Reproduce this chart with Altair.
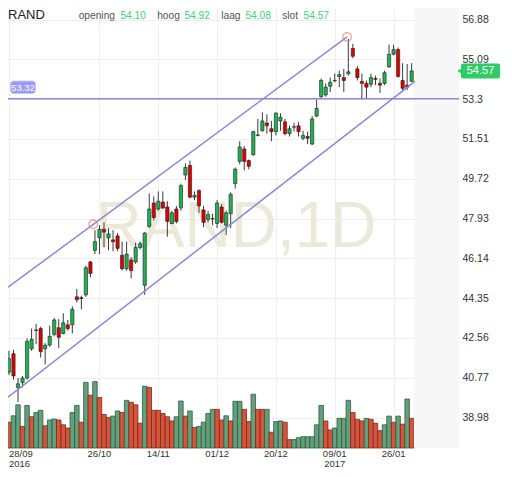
import altair as alt
import pandas as pd

# ---------------- data ----------------
opens = [41.02, 41.85, 40.33, 40.55, 40.76, 42.07, 42.92, 42.98, 42.07, 42.24,
         42.72, 43.02, 42.76, 43.15, 43.15, 44.41, 44.37, 44.50, 45.98, 46.50,
         47.06, 47.45, 47.06, 46.97, 47.15, 46.28, 45.67, 46.07, 45.98, 46.63,
         44.93, 47.58, 48.63, 48.36, 48.67, 48.45, 47.71, 48.36, 48.41, 49.89,
         50.32, 48.89, 49.19, 48.32, 47.89, 47.93, 47.71, 48.45, 47.63, 48.15,
         49.50, 50.50, 51.06, 50.54, 50.80, 51.67, 51.88, 52.23, 51.97, 51.84,
         52.32, 52.28, 51.75, 52.04, 52.10, 51.54, 51.62, 51.28, 52.54, 53.41,
         53.49, 53.88, 54.12, 54.32, 54.27, 54.45, 55.58, 54.66, 54.10, 54.01,
         53.97, 54.23, 54.01, 54.01, 54.75, 55.32, 55.53, 54.14, 53.93, 54.10]
highs = [41.98, 42.03, 40.76, 40.85, 42.54, 42.98, 43.19, 43.06, 42.33, 43.11,
         43.46, 43.41, 43.67, 43.37, 43.98, 44.76, 44.46, 45.81, 46.02, 47.41,
         47.63, 47.76, 47.50, 47.41, 47.28, 46.89, 46.89, 46.20, 46.85, 46.89,
         47.32, 49.06, 48.93, 49.15, 49.15, 48.71, 48.28, 48.50, 49.50, 50.41,
         50.54, 49.15, 49.24, 48.50, 48.28, 48.15, 48.76, 48.58, 48.28, 49.11,
         50.23, 51.41, 51.19, 50.58, 51.88, 52.41, 52.71, 52.62, 52.32, 52.71,
         52.67, 52.41, 52.10, 52.23, 52.28, 51.88, 51.84, 52.54, 53.28, 54.23,
         54.01, 54.27, 54.45, 54.58, 54.66, 56.01, 55.79, 54.79, 54.45, 54.14,
         54.45, 54.36, 54.23, 54.58, 55.75, 55.75, 55.62, 54.92, 54.88, 54.92]
lows = [40.89, 40.68, 39.68, 40.33, 40.68, 41.98, 42.28, 41.68, 41.37, 42.16,
        42.63, 42.11, 42.72, 42.89, 42.76, 44.15, 43.85, 44.41, 45.29, 46.33,
        46.33, 46.63, 46.50, 46.46, 46.46, 45.59, 45.59, 45.24, 45.89, 46.54,
        44.50, 47.50, 47.84, 48.28, 48.36, 47.11, 47.67, 47.71, 48.28, 49.67,
        48.84, 48.76, 48.19, 47.54, 47.76, 47.63, 47.50, 47.71, 47.19, 47.50,
        49.28, 50.37, 50.10, 50.15, 50.75, 51.62, 51.84, 51.75, 51.41, 51.67,
        51.88, 51.67, 51.62, 51.84, 51.62, 51.45, 51.28, 51.23, 52.49, 53.36,
        53.41, 53.62, 54.06, 53.84, 53.62, 54.36, 55.14, 54.14, 53.28, 53.32,
        53.84, 53.93, 53.58, 53.93, 54.71, 55.27, 54.27, 53.62, 53.71, 54.08]
closes = [41.63, 40.85, 40.50, 40.76, 42.41, 42.50, 42.90, 41.94, 42.24, 42.63,
          43.37, 42.59, 43.24, 42.98, 43.85, 44.28, 44.33, 45.72, 45.46, 46.89,
          47.45, 47.32, 47.24, 46.89, 46.59, 45.67, 46.33, 45.59, 46.63, 46.80,
          47.28, 48.36, 47.97, 48.71, 48.41, 47.80, 48.19, 47.80, 49.41, 50.23,
          48.89, 48.97, 48.50, 47.76, 48.11, 47.91, 48.63, 47.76, 48.19, 49.02,
          50.15, 51.15, 50.50, 50.28, 51.84, 51.69, 52.32, 52.10, 51.84, 52.67,
          52.49, 51.75, 51.97, 52.06, 51.84, 51.67, 51.54, 52.41, 52.88, 54.14,
          53.84, 54.06, 54.14, 54.40, 54.14, 54.53, 55.23, 54.27, 54.01, 53.84,
          54.27, 54.19, 53.93, 54.49, 55.32, 55.53, 54.32, 53.79, 53.84, 54.57]
volumes = [800, 1000, 1340, 670, 1320, 970, 1100, 1170, 690, 870,
           900, 870, 720, 620, 1100, 1320, 800, 2040, 1640, 2060,
           1570, 1040, 950, 990, 1150, 1100, 1480, 1420, 1340, 770,
           1920, 1880, 1170, 1170, 1070, 970, 840, 970, 1460, 990,
           1150, 640, 670, 800, 1070, 1200, 1200, 870, 1000, 840,
           1450, 1450, 1200, 820, 1670, 1200, 1200, 1200, 490, 820,
           840, 800, 260, 260, 320, 350, 350, 350, 720, 1320,
           840, 560, 620, 920, 920, 1480, 1100, 890, 840, 920,
           890, 770, 540, 720, 990, 800, 990, 740, 1520, 920]
vol_dir = list("RGGRGRGGRGGRRRGGRGRGRRRGGRGRRRGRRRRRRGGRGRGGGGRRGRGGRRG"
               "RRGRGGRRGGGGGGGRRGGGGRRRGRRRGGRGRGR")

date_idx = [0, 20, 33, 46, 59, 72, 85]
date_lbl = ["28/09", "26/10", "14/11", "01/12", "20/12", "09/01", "26/01"]
year_idx = [0, 72]
year_lbl = ["2016", "2017"]
price_ticks = [38.98, 40.77, 42.56, 44.35, 46.14, 47.93, 49.72, 51.51, 53.3, 55.09, 56.88]

upper_x = [-0.21, 18.63, 74.73]
upper_y = [44.84, 47.67, 56.10]
lower_x = [-0.21, 89.72]
lower_y = [39.90, 54.10]
anchor_x = [18.63, 74.73]
anchor_y = [47.67, 56.10]
level = 53.32
symbol = "RAND"
watermark = "RAND,1D"
hdr_lbl = ["opening", "hoog", "laag", "slot"]
hdr_val = ["54.10", "54.92", "54.08", "54.57"]
last_price = "54.57"
future_start = 89.5

# ---------------- layout / style ----------------
W, H = 451, 440
XD = [-0.214, 99.46]
YD = [37.61, 57.40]
FONT = "Liberation Sans"
GREEN = "#1fb254"
RED = "#dd0000"
LINE_C = "#8a8ad6"
hdr_lbl_x = [70.7, 149.2, 213.2, 274.2]
hdr_val_x = [112.4, 176.4, 237.4, 295.5]

n = len(opens)
df = pd.DataFrame({"i": list(range(n)), "open": opens, "high": highs, "low": lows,
                   "close": closes, "vol": volumes, "vdir": vol_dir})

xs = alt.Scale(domain=XD, nice=False, zero=False)
ys = alt.Scale(domain=YD, nice=False, zero=False)
x_axis = alt.Axis(values=date_idx, grid=True, gridColor="#efefef", labels=False,
                  ticks=False, domain=False, title=None)
y_axis = alt.Axis(orient="right", values=price_ticks, grid=True, gridColor="#efefef",
                  ticks=False, domain=False, title=None, labelExpr="'' + datum.value",
                  labelColor="#333333", labelFontSize=10.5, labelPadding=3, labelFont=FONT)

one = pd.DataFrame({"k": [0]})

def X(field):
    return alt.X(field, type="quantitative", scale=xs, axis=x_axis)

def Y(field):
    return alt.Y(field, type="quantitative", scale=ys, axis=y_axis)

# future (hatched) zone
hatch = alt.Chart(one).mark_rect(color="#f7f7f7").encode(
    x=alt.X(datum=future_start, type="quantitative", scale=xs, axis=x_axis),
    x2=alt.datum(XD[1]), y=alt.value(0), y2=alt.value(H))

wm = alt.Chart(one).mark_text(text=watermark, font=FONT, fontSize=64, color="#ece8da",
                              align="center", baseline="alphabetic").encode(
    x=alt.value(228), y=alt.value(239))

wicks = alt.Chart(df).mark_rule(color="#3a3a3a", strokeWidth=1).encode(
    x=X("i"), y=Y("low"), y2="high:Q")

bodies = alt.Chart(df).mark_rect(stroke="#1e1e1e", strokeWidth=0.6).transform_calculate(
    x0="datum.i - 0.36", x1="datum.i + 0.36").encode(
    x=X("x0"), x2="x1:Q", y=Y("open"), y2="close:Q",
    fill=alt.condition("datum.close >= datum.open", alt.value(GREEN), alt.value(RED)))

lvl = alt.Chart(pd.DataFrame({"y": [level]})).mark_rule(color=LINE_C, strokeWidth=1.6).encode(
    y=Y("y"))

tl = pd.DataFrame({"x": upper_x + lower_x, "y": upper_y + lower_y,
                   "line": ["upper"] * len(upper_x) + ["lower"] * len(lower_x)})
trend = alt.Chart(tl).mark_line(color=LINE_C, strokeWidth=1.5).encode(
    x=X("x"), y=Y("y"), detail="line:N")

anchors = alt.Chart(pd.DataFrame({"x": anchor_x, "y": anchor_y})).mark_point(
    shape="circle", filled=False, color="#f07878", size=75, strokeWidth=1.3).encode(
    x=X("x"), y=Y("y"))

# level tag at the left
lvl_box = alt.Chart(one).mark_rect(fill="#9a9af0", stroke="#c8c8fb", strokeWidth=1,
                                   cornerRadius=3).encode(
    x=alt.value(2.5), x2=alt.value(27.5), y=alt.value(73), y2=alt.value(85.5))
lvl_txt = alt.Chart(one).mark_text(text=f"{level:.2f}", font=FONT, fontSize=9.5, color="white",
                                   align="center", baseline="middle").encode(
    x=alt.value(15), y=alt.value(79.5))

# last price tag at the right
tag_box = alt.Chart(one).mark_rect(fill="#2fcc66", cornerRadius=2).encode(
    x=alt.value(453), x2=alt.value(492), y=alt.value(55.5), y2=alt.value(70.5))
tag_ptr = alt.Chart(one).mark_point(shape="triangle-left", filled=True, color="#2fcc66",
                                    size=45, opacity=1).encode(
    x=alt.value(452), y=alt.value(63))
tag_txt = alt.Chart(one).mark_text(text=last_price, font=FONT, fontSize=11, color="white",
                                   align="center", baseline="middle").encode(
    x=alt.value(472.5), y=alt.value(63.3))

# header
sym = alt.Chart(one).mark_text(text=symbol, font=FONT, fontSize=13, color="#222222",
                               align="left", baseline="alphabetic").encode(
    x=alt.value(0), y=alt.value(11))
hdr_df = pd.DataFrame({"lbl": hdr_lbl, "val": hdr_val, "lx": hdr_lbl_x, "vx": hdr_val_x})
hdr_l = alt.Chart(hdr_df).mark_text(font=FONT, fontSize=10.2, color="#555555", align="left",
                                    baseline="alphabetic").encode(
    x=alt.X("lx:Q", scale=None), y=alt.value(10.5), text="lbl:N")
hdr_v = alt.Chart(hdr_df).mark_text(font=FONT, fontSize=10.2, color="#46d07a", align="left",
                                    baseline="alphabetic").encode(
    x=alt.X("vx:Q", scale=None), y=alt.value(10.5), text="val:N")

# date labels
dl = pd.DataFrame({"i": date_idx, "t": date_lbl})
yl = pd.DataFrame({"i": year_idx, "t": year_lbl})
LBL_FS = 9.5
d_first = alt.Chart(dl).transform_filter("datum.i == 0").mark_text(
    font=FONT, fontSize=LBL_FS, color="#333333", align="left", baseline="alphabetic").encode(
    x=X("i"), y=alt.value(H + 8.5), text="t:N")
d_rest = alt.Chart(dl).transform_filter("datum.i != 0").mark_text(
    font=FONT, fontSize=LBL_FS, color="#333333", align="center", baseline="alphabetic").encode(
    x=X("i"), y=alt.value(H + 8.5), text="t:N")
y_first = alt.Chart(yl).transform_filter("datum.i == 0").mark_text(
    font=FONT, fontSize=LBL_FS, color="#333333", align="left", baseline="alphabetic").encode(
    x=X("i"), y=alt.value(H + 19), text="t:N")
y_rest = alt.Chart(yl).transform_filter("datum.i != 0").mark_text(
    font=FONT, fontSize=LBL_FS, color="#333333", align="center", baseline="alphabetic").encode(
    x=X("i"), y=alt.value(H + 19), text="t:N")

price = alt.layer(hatch, wm, wicks, bodies, lvl, trend, anchors, lvl_box, lvl_txt,
                  tag_box, tag_ptr, tag_txt, sym, hdr_l, hdr_v,
                  d_first, d_rest, y_first, y_rest)

vol = alt.Chart(df).mark_rect(strokeWidth=0.8).transform_calculate(
    x0="datum.i - 0.5", x1="datum.i + 0.5").encode(
    x=X("x0"), x2="x1:Q",
    y=alt.Y("vol:Q", scale=alt.Scale(domain=[0, 13665], nice=False, zero=True), axis=None),
    y2=alt.datum(0),
    fill=alt.condition("datum.vdir == 'G'", alt.value("#64a07c"), alt.value("#d6543c")),
    stroke=alt.condition("datum.vdir == 'G'", alt.value("#2e5a40"), alt.value("#7a2a1a")))

chart = alt.layer(vol, price).resolve_scale(y="independent").properties(
    width=W, height=H,
    autosize=alt.AutoSizeParams(type="none"),
    padding={"left": 0, "top": 0, "right": 45, "bottom": 21},
    background="white",
).configure_view(strokeWidth=0)

chart.save("out.html", embed_options={"renderer": "svg", "actions": False})
